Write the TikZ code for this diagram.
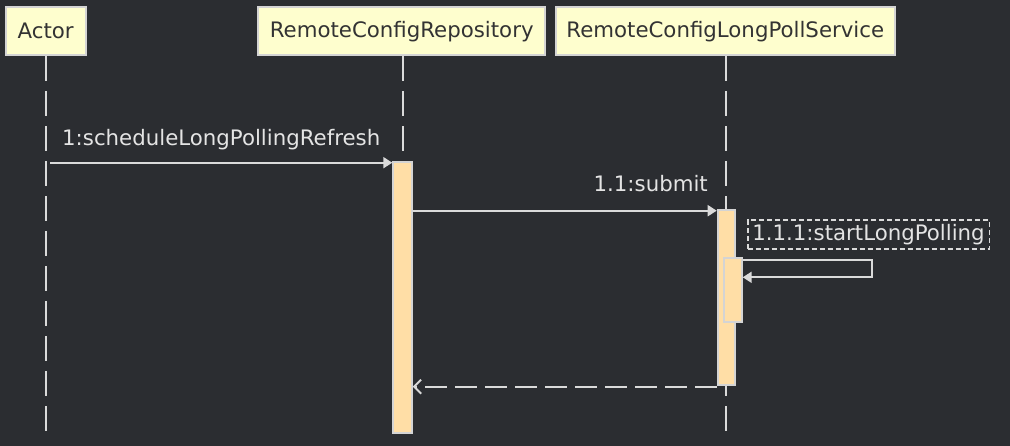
\documentclass[tikz,border=0pt]{standalone}
\usepackage{fontspec}
\setmainfont{DejaVu Sans}
\usetikzlibrary{arrows.meta}
\definecolor{bg}{HTML}{2B2D31}
\definecolor{partfill}{HTML}{FEFECE}
\definecolor{partdraw}{HTML}{D4D4D4}
\definecolor{partText}{HTML}{333333}
\definecolor{actfill}{HTML}{FFDEA6}
\definecolor{lineclr}{HTML}{DADADA}
\definecolor{labelclr}{HTML}{E4E4E4}
\tikzset{
  part/.style={draw=partdraw, fill=partfill, line width=2pt, text=partText, minimum height=48pt, inner sep=0pt, font=\fontsize{21.3}{25}\selectfont},
  life/.style={draw=lineclr, line width=2pt, dash pattern=on 25pt off 10pt},
  act/.style={draw=partdraw, fill=actfill, line width=2pt, inner sep=0pt},
  msg/.style={draw=lineclr, line width=2pt, -{Triangle[length=9pt,width=11pt]}},
  ret/.style={draw=lineclr, line width=2pt, dash pattern=on 22pt off 8pt, -{Straight Barb[length=7pt,width=14pt,line width=2pt]}},
  lbl/.style={text=labelclr, inner sep=0pt, font=\fontsize{21.3}{25}\selectfont},
  notebox/.style={draw=lineclr, line width=1.6pt, dash pattern=on 5pt off 3pt, text=labelclr, inner sep=0pt, minimum width=241.6pt, minimum height=29pt, font=\fontsize{21.3}{25}\selectfont}
}
\begin{document}
\begin{tikzpicture}[x=1pt,y=-1pt]
\fill[bg] (0,0) rectangle (1010,446);
\useasboundingbox (0,0) rectangle (1010,446);

% participants
\node[part, minimum width=80pt] (actor) at (45.7,31.3) {Actor};
\node[part, minimum width=287.5pt] (repo) at (401.7,31.3) {RemoteConfigRepository};
\node[part, minimum width=339.5pt] (svc) at (725.3,31.3) {RemoteConfigLongPollService};

% lifeline ends
\coordinate (actorEnd) at (45.9,436);
\coordinate (repoEnd) at (402.5,436);
\coordinate (svcEnd) at (726.3,436);

\draw[life] ([xshift=0.2pt]actor.south) -- (actorEnd);
\draw[life] ([xshift=0.8pt]repo.south) -- (repoEnd);
\draw[life] ([xshift=1pt]svc.south) -- (svcEnd);

% activations
\node[act, minimum width=18.4pt, minimum height=271.6pt] (repoAct) at (402.5,297.5) {};
\node[act, minimum width=17.6pt, minimum height=175pt] (svcAct) at (726.5,297.5) {};
\node[act, minimum width=17.4pt, minimum height=63.4pt] (nestAct) at (733,290) {};

% message 1
\coordinate (m1start) at (50,162.7);
\draw[msg] (m1start) -- (repoAct.west |- m1start);
\node[lbl, anchor=base west] (m1lbl) at (62,146) {1:scheduleLongPollingRefresh};

% message 1.1
\coordinate (m2y) at (0,210.7);
\draw[msg] (repoAct.east |- m2y) -- (svcAct.west |- m2y);
\node[lbl, anchor=base east] (m2lbl) at (708,192) {1.1:submit};

% self message 1.1.1
\coordinate (selfA) at (871.7,260);
\coordinate (selfB) at (871.7,277.3);
\draw[msg] (nestAct.east |- selfA) -- (selfA) -- (selfB) -- (nestAct.east |- selfB);
\node[notebox] (m3lbl) at (868.5,234.5) {1.1.1:startLongPolling};

% return
\coordinate (m4y) at (0,386.7);
\draw[ret] (svcAct.west |- m4y) -- (repoAct.east |- m4y);
\end{tikzpicture}
\end{document}
